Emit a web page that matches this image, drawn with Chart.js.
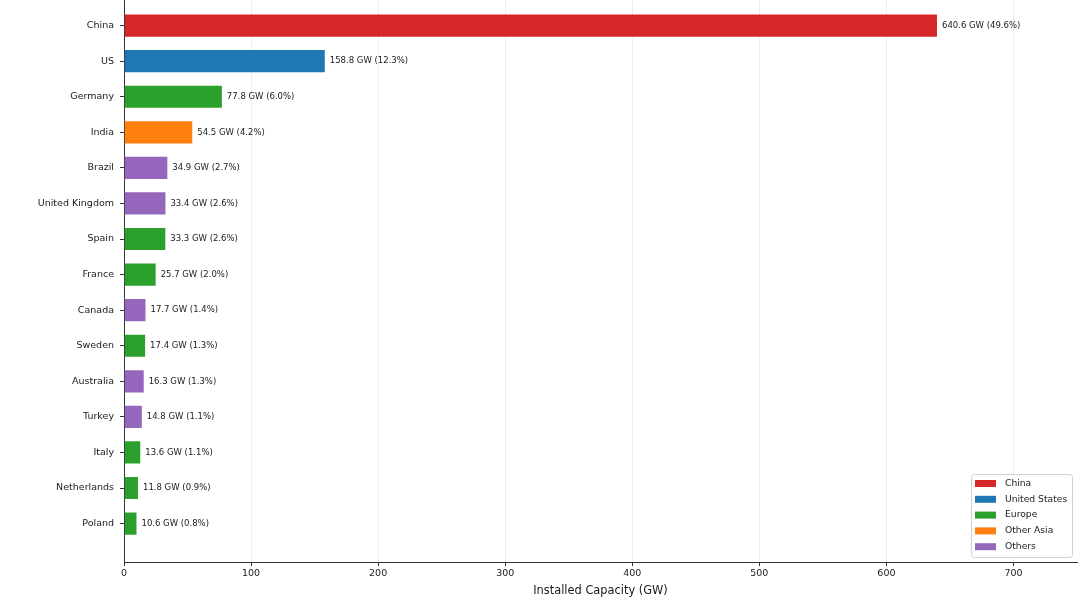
<!DOCTYPE html>
<html>
<head>
<meta charset="utf-8">
<script src="https://cdn.jsdelivr.net/npm/chart.js@4.4.0/dist/chart.umd.min.js"></script>
<style>
html, body { margin: 0; padding: 0; background: #fff; }
#wrap { width: 1080px; height: 608px; }
</style>
</head>
<body>
<div id="wrap"><canvas id="myChart"></canvas></div>
<script>
const countries = ['China', 'US', 'Germany', 'India', 'Brazil', 'United Kingdom', 'Spain', 'France',
                   'Canada', 'Sweden', 'Australia', 'Turkey', 'Italy', 'Netherlands', 'Poland'];
const capacity = [640.6, 158.8, 77.8, 54.5, 34.9, 33.4, 33.3, 25.7, 17.7, 17.4, 16.3, 14.8, 13.6, 11.8, 10.6];
const shares = [49.6, 12.3, 6.0, 4.2, 2.7, 2.6, 2.6, 2.0, 1.4, 1.3, 1.3, 1.1, 1.1, 0.9, 0.8];
const regions = ['China', 'United States', 'Europe', 'Other Asia', 'Others', 'Others', 'Europe', 'Europe',
                 'Others', 'Europe', 'Others', 'Others', 'Europe', 'Europe', 'Europe'];
const regionNames = ['China', 'United States', 'Europe', 'Other Asia', 'Others'];
const regionColors = ['#d62728', '#1f77b4', '#2ca02c', '#ff7f0e', '#9467bd'];
const xTicks = [0, 100, 200, 300, 400, 500, 600, 700];

const ctx = document.getElementById('myChart');
const FONT = 'DejaVu Sans';

function colorOf(i) {
    return regionColors[regionNames.indexOf(regions[i])];
}

// value labels at the end of each bar
const barLabels = {
    id: 'barLabels',
    afterDatasetsDraw(chart) {
        const c = chart.ctx;
        const meta = chart.getDatasetMeta(0);
        c.save();
        c.font = '8.5px "' + FONT + '"';
        c.fillStyle = '#1a1a1a';
        c.textBaseline = 'middle';
        c.textAlign = 'left';
        meta.data.forEach(function(bar, i) {
            c.fillText(capacity[i].toFixed(1) + ' GW (' + shares[i].toFixed(1) + '%)', bar.x + 4, bar.y);
        });
        c.restore();
    }
};

// legend box inside the plot, lower right
const boxLegend = {
    id: 'boxLegend',
    afterDraw(chart) {
        const c = chart.ctx;
        const area = chart.chartArea;
        const w = 101, h = 83;
        const x0 = area.right - w - 5, y0 = area.bottom - h - 5;
        c.save();
        c.fillStyle = 'rgba(255,255,255,0.85)';
        c.strokeStyle = '#d0d0d0';
        c.lineWidth = 1;
        c.beginPath();
        c.roundRect(x0 + 0.5, y0 + 0.5, w, h, 3);
        c.fill();
        c.stroke();
        c.font = '9.2px "' + FONT + '"';
        c.textBaseline = 'middle';
        regionNames.forEach(function(name, i) {
            const y = y0 + 9.5 + i * 15.8;
            c.fillStyle = regionColors[i];
            c.fillRect(x0 + 4, y - 3.5, 21, 7);
            c.fillStyle = '#1a1a1a';
            c.fillText(name, x0 + 34, y);
        });
        c.restore();
    }
};

new Chart(ctx, {
    type: 'bar',
    data: {
        datasets: [{
            data: capacity.map((v, i) => ({ x: v, y: i })),
            backgroundColor: capacity.map((v, i) => colorOf(i)),
            borderColor: 'rgba(255,255,255,0.45)',
            borderWidth: 1,
            barPercentage: 0.68,
            categoryPercentage: 1.0
        }]
    },
    options: {
        indexAxis: 'y',
        responsive: true,
        maintainAspectRatio: false,
        animation: false,
        layout: { padding: { top: 0, right: 3, left: 0, bottom: 0 } },
        plugins: {
            legend: { display: false },
            tooltip: { enabled: false }
        },
        scales: {
            y: {
                type: 'linear',
                reverse: true,
                offset: false,
                min: -0.72,
                max: 15.08,
                afterBuildTicks: function(scale) {
                    scale.ticks = countries.map((c, i) => ({ value: i }));
                },
                afterFit: function(scale) {
                    scale.width = 124;
                    scale.paddingTop = 0;
                    scale.paddingBottom = 0;
                },
                ticks: {
                    autoSkip: false,
                    padding: 6,
                    color: '#1a1a1a',
                    font: { family: FONT, size: 9.5 },
                    callback: (v, i) => countries[i]
                },
                grid: { offset: false, drawOnChartArea: false, tickLength: 4, tickColor: '#333' },
                border: { color: '#333', width: 1 }
            },
            x: {
                type: 'linear',
                position: 'bottom',
                min: 0,
                max: 750,
                z: 1,
                afterBuildTicks: function(scale) {
                    scale.ticks = xTicks.map(v => ({ value: v }));
                },
                afterFit: function(scale) { scale.height = 46; },
                ticks: {
                    padding: 2,
                    color: '#1a1a1a',
                    font: { family: FONT, size: 9.5 }
                },
                grid: { offset: false, color: 'rgba(0,0,0,0.07)', tickColor: '#333', tickLength: 4 },
                border: { color: '#333', width: 1 },
                title: {
                    display: true,
                    text: 'Installed Capacity (GW)',
                    color: '#1a1a1a',
                    font: { family: FONT, size: 11.4 },
                    padding: { top: 2, bottom: 10 }
                }
            }
        }
    },
    plugins: [barLabels, boxLegend]
});
</script>
</body>
</html>
